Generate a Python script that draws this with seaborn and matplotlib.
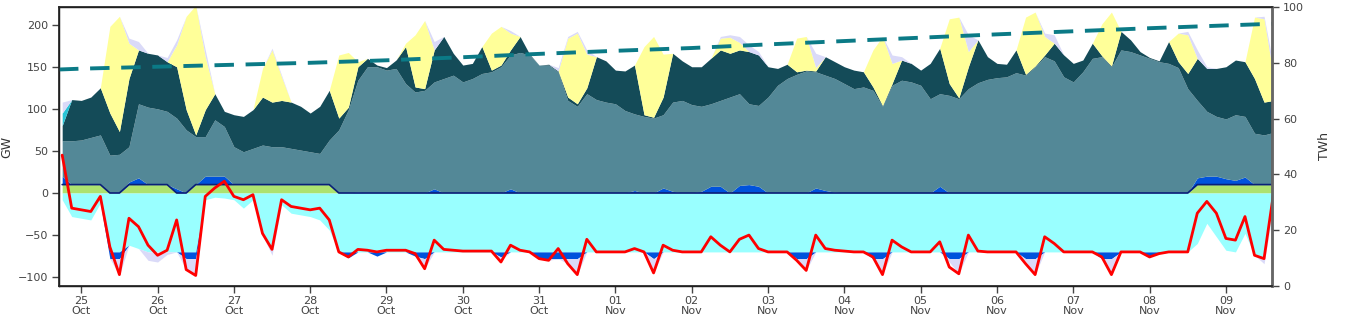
import matplotlib
matplotlib.use("Agg")
import matplotlib.pyplot as plt
import matplotlib.dates as mdates
import pandas as pd
import seaborn as sns

# 3-hourly samples, 24 Oct 18:00 -> 09 Nov 15:00 (one line = one day, 8 values)
start = "2019-10-24 18:00"

green = [10, 10,
         10, 10, 10, 0, 0, 10, 10, 10,
         10, 10, 0, 0, 10, 10, 10, 10,
         10, 10, 10, 10, 10, 10, 10, 10,
         10, 10, 10, 0, 0, 0, 0, 0,
         0, 0, 0, 0, 0, 0, 0, 0,
         0, 0, 0, 0, 0, 0, 0, 0,
         0, 0, 0, 0, 0, 0, 0, 0,
         0, 0, 0, 0, 0, 0, 0, 0,
         0, 0, 0, 0, 0, 0, 0, 0,
         0, 0, 0, 0, 0, 0, 0, 0,
         0, 0, 0, 0, 0, 0, 0, 0,
         0, 0, 0, 0, 0, 0, 0, 0,
         0, 0, 0, 0, 0, 0, 0, 0,
         0, 0, 0, 0, 0, 0, 0, 0,
         0, 0, 0, 0, 0, 10, 10, 10,
         10, 10, 10, 10, 10, 10]

blue_pos = [10, 0,
            0, 0, 0, 0, 0, 3, 8, 0,
            0, 0, 5, 0, 0, 10, 10, 10,
            0, 0, 0, 0, 0, 0, 0, 0,
            0, 0, 0, 0, 0, 1, 0, 0,
            0, 0, 0, 0, 0, 5, 0, 0,
            0, 0, 0, 0, 0, 5, 0, 0,
            0, 0, 0, 0, 0, 0, 0, 0,
            0, 0, 3, 0, 0, 6, 2, 0,
            0, 2, 8, 8, 0, 9, 10, 8,
            0, 0, 0, 0, 0, 6, 3, 1,
            0, 0, 0, 0, 0, 0, 0, 0,
            0, 0, 8, 0, 0, 0, 0, 0,
            0, 0, 0, 0, 0, 0, 0, 0,
            0, 0, 0, 0, 0, 0, 0, 0,
            0, 0, 0, 0, 0, 8, 10, 10,
            7, 5, 9, 0, 0, 0]

steel = [42, 52,
         53, 56, 59, 45, 46, 42, 88, 92,
         90, 87, 84, 75, 57, 47, 67, 59,
         45, 39, 43, 47, 45, 45, 43, 41,
         39, 37, 53, 75, 99, 133, 150, 150,
         146, 148, 130, 120, 122, 127, 136, 140,
         132, 136, 142, 144, 150, 159, 167, 164,
         152, 152, 144, 110, 103, 118, 111, 108,
         106, 98, 91, 91, 89, 87, 106, 110,
         105, 101, 98, 102, 114, 109, 96, 96,
         114, 128, 136, 141, 145, 138, 137, 135,
         130, 124, 126, 122, 103, 128, 134, 132,
         128, 112, 110, 116, 112, 124, 131, 135,
         137, 138, 143, 140, 150, 162, 157, 138,
         132, 144, 160, 162, 150, 170, 168, 164,
         160, 156, 154, 149, 124, 92, 77, 71,
         71, 78, 72, 61, 59, 62]

teal = [18, 49,
        47, 48, 56, 50, 27, 81, 64, 64,
        64, 59, 61, 24, 2, 32, 31, 18,
        38, 42, 46, 57, 53, 55, 55, 52,
        46, 56, 59, 14, 3, 16, 10, 2,
        3, 10, 44, 6, 2, 38, 50, 26,
        20, 18, 32, 2, 2, 6, 19, 1,
        0, 1, 1, 4, 3, 7, 51, 49,
        40, 47, 58, 2, 1, 21, 58, 47,
        45, 47, 54, 60, 52, 52, 62, 60,
        36, 20, 17, 3, 1, 1, 22, 20,
        20, 22, 18, 4, 1, 2, 24, 22,
        18, 42, 54, 14, 1, 26, 51, 27,
        17, 15, 27, 1, 1, 2, 21, 26,
        22, 14, 18, 1, 1, 22, 14, 4,
        1, 1, 26, 7, 18, 50, 51, 57,
        62, 65, 65, 65, 39, 38]

cyan_pos = [15, 0] + [0] * 126

yellow = [0, 0,
          0, 0, 0, 103, 137, 42, 0, 0,
          0, 0, 26, 111, 154, 63, 0, 0,
          0, 0, 0, 34, 62, 28, 0, 0,
          0, 0, 0, 75, 65, 6, 0, 0,
          0, 0, 4, 62, 81, 0, 0, 0,
          0, 0, 0, 44, 46, 20, 0, 0,
          0, 0, 0, 70, 84, 40, 0, 0,
          0, 0, 0, 81, 96, 51, 0, 0,
          0, 0, 0, 14, 19, 9, 0, 0,
          0, 0, 0, 40, 40, 4, 0, 0,
          0, 0, 0, 44, 82, 24, 0, 0,
          0, 0, 0, 77, 96, 18, 0, 0,
          0, 0, 0, 68, 64, 22, 0, 0,
          0, 0, 0, 38, 64, 0, 0, 0,
          0, 0, 0, 34, 46, 0, 0, 0,
          0, 0, 0, 73, 99, 28]

lavender = [13, 0,
            0, 0, 0, 0, 0, 6, 10, 0,
            0, 5, 6, 0, 0, 8, 0, 0,
            0, 0, 0, 0, 2, 2, 0, 0,
            0, 0, 0, 0, 0, 0, 0, 0,
            0, 0, 0, 0, 0, 10, 0, 0,
            0, 0, 0, 0, 0, 3, 0, 0,
            0, 0, 4, 2, 2, 5, 0, 0,
            0, 0, 0, 0, 0, 0, 0, 0,
            0, 0, 0, 2, 3, 7, 8, 4,
            0, 0, 0, 0, 0, 17, 0, 0,
            0, 0, 0, 0, 0, 10, 4, 0,
            0, 0, 0, 0, 0, 20, 0, 0,
            0, 0, 0, 0, 0, 4, 10, 0,
            0, 0, 0, 0, 0, 0, 0, 0,
            0, 0, 0, 0, 4, 10, 2, 0,
            0, 0, 0, 0, 3, 12]

cyan_neg = [8, 28,
            30, 32, 12, 70, 70, 62, 66, 70,
            70, 70, 70, 70, 70, 8, 5, 6,
            8, 18, 8, 50, 66, 14, 24, 26,
            28, 32, 44, 70, 70, 70, 70, 70,
            70, 70, 70, 70, 70, 70, 70, 70,
            70, 70, 70, 70, 70, 70, 70, 70,
            70, 70, 70, 70, 70, 70, 70, 70,
            70, 70, 70, 70, 70, 70, 70, 70,
            70, 70, 70, 70, 70, 70, 70, 70,
            70, 70, 70, 70, 70, 70, 70, 70,
            70, 70, 70, 70, 70, 70, 70, 70,
            70, 70, 70, 70, 70, 70, 70, 70,
            70, 70, 70, 70, 70, 70, 70, 70,
            70, 70, 70, 70, 70, 70, 70, 70,
            70, 70, 70, 70, 70, 60, 36, 52,
            68, 70, 48, 74, 78, 16]

blue_neg = [0, 0,
            0, 0, 0, 8, 8, 0, 0, 0,
            0, 0, 0, 8, 8, 0, 0, 0,
            0, 0, 0, 0, 0, 0, 0, 0,
            0, 0, 0, 0, 7, 0, 0, 5,
            0, 0, 0, 5, 8, 0, 0, 0,
            0, 0, 0, 0, 6, 0, 0, 0,
            8, 8, 8, 8, 8, 0, 0, 0,
            0, 0, 0, 0, 8, 0, 0, 0,
            0, 0, 0, 0, 0, 0, 0, 0,
            0, 0, 0, 8, 8, 0, 0, 0,
            0, 0, 0, 8, 8, 0, 0, 0,
            0, 0, 0, 8, 8, 0, 0, 0,
            0, 0, 0, 8, 8, 0, 0, 0,
            0, 0, 0, 8, 8, 0, 0, 0,
            5, 2, 0, 0, 0, 0, 0, 0,
            0, 0, 0, 0, 0, 0]

lavender_neg = [0, 0,
                0, 0, 0, 0, 20, 0, 0, 10,
                12, 3, 0, 13, 20, 0, 0, 0,
                0, 0, 0, 0, 8, 0, 0, 0,
                0, 0, 0, 0, 0, 0, 0, 0,
                0, 0, 0, 0, 12, 0, 0, 0,
                0, 0, 0, 0, 4, 0, 0, 0,
                0, 2, 0, 6, 19, 0, 0, 0,
                0, 0, 0, 0, 17, 0, 0, 0,
                0, 0, 0, 0, 0, 0, 0, 0,
                0, 0, 0, 2, 14, 0, 0, 0,
                0, 0, 0, 0, 19, 0, 0, 0,
                0, 0, 0, 4, 18, 0, 0, 0,
                0, 0, 0, 3, 19, 0, 0, 0,
                0, 0, 0, 0, 19, 0, 0, 0,
                0, 0, 0, 0, 0, 0, 0, 0,
                0, 0, 0, 0, 6, 0]

net = [45, -18,
       -20, -22, -4, -64, -97, -30, -40, -62,
       -74, -68, -32, -91, -98, -4, 6, 14,
       -4, -8, -2, -48, -67, -8, -16, -18,
       -20, -18, -32, -70, -76, -67, -68, -70,
       -68, -68, -68, -72, -90, -56, -67, -68,
       -69, -69, -69, -69, -82, -62, -68, -70,
       -78, -80, -66, -84, -97, -55, -70, -70,
       -70, -70, -66, -70, -95, -62, -68, -70,
       -70, -70, -52, -62, -70, -55, -50, -66,
       -70, -70, -70, -80, -92, -50, -66, -68,
       -69, -70, -70, -76, -97, -56, -64, -70,
       -70, -70, -58, -88, -96, -50, -69, -70,
       -70, -70, -70, -84, -97, -52, -60, -70,
       -70, -70, -70, -76, -97, -70, -70, -70,
       -76, -72, -70, -70, -70, -24, -10, -24,
       -54, -56, -28, -74, -78, 0]

# cumulative energy (right axis, TWh)
energy_times = ["2019-10-24 17:00", "2019-10-25 00:00", "2019-10-26 00:00",
                "2019-10-27 00:00", "2019-10-28 00:00", "2019-10-29 00:00",
                "2019-10-30 00:00", "2019-10-31 00:00", "2019-11-01 00:00",
                "2019-11-02 00:00", "2019-11-03 00:00", "2019-11-04 00:00",
                "2019-11-05 00:00", "2019-11-06 00:00", "2019-11-07 00:00",
                "2019-11-08 00:00", "2019-11-09 00:00", "2019-11-09 15:00"]
energy = [77.6, 77.9, 78.6, 79.3, 80.0, 80.9, 82.0, 83.2, 84.3, 85.3,
          86.6, 87.8, 89.0, 90.2, 91.3, 92.4, 93.4, 94.0]

times = pd.date_range(start, periods=len(net), freq="3h")
energy_times = pd.to_datetime(energy_times, format="%Y-%m-%d %H:%M")

sns.set_theme(style="white")
plt.rcParams['font.family'] = ['DejaVu Sans']

fig, ax = plt.subplots(figsize=(13.5, 3.2), dpi=100)
fig.subplots_adjust(left=59 / 1350, right=1272 / 1350, bottom=34 / 320, top=313 / 320)

ax.stackplot(times, green, blue_pos, steel, teal, cyan_pos, yellow, lavender,
             colors=['#ade26f', '#0052dc', '#538897', '#144b58', '#29c4d6',
                     '#ffff99', '#dadaf8'], linewidth=0)
ax.stackplot(times, [-v for v in cyan_neg], [-v for v in blue_neg],
             [-v for v in lavender_neg],
             colors=['#99ffff', '#0052dc', '#dadaf8'], linewidth=0)

sns.lineplot(x=times, y=green, ax=ax, color='#0a1f78', linewidth=1.2)
sns.lineplot(x=times, y=net, ax=ax, color='#ff0000', linewidth=2)

ax.set_ylim(-110.5, 221)
ax.set_yticks([-100, -50, 0, 50, 100, 150, 200])
ax.set_xlim(pd.Timestamp("2019-10-24 17:00"), pd.Timestamp("2019-11-09 14:30"))
ax.xaxis.set_major_locator(mdates.DayLocator())
ax.xaxis.set_major_formatter(mdates.DateFormatter("%d\n%b"))
ax.set_ylabel("GW", fontsize=9, color='#333333', labelpad=3)
ax.set_xlabel("")
ax.tick_params(axis='y', labelsize=8, colors='#444444', length=5,
               width=1, direction='out', left=True, pad=3)
ax.tick_params(axis='x', labelsize=8, colors='#444444', length=5,
               width=1, direction='out', bottom=True, pad=2)
for lbl in ax.get_xticklabels():
    lbl.set_linespacing(1.0)
for s in ax.spines.values():
    s.set_color('black')
    s.set_linewidth(1)

ax2 = ax.twinx()
sns.lineplot(x=energy_times, y=energy, ax=ax2, color='#0b7a86', linewidth=2.8,
             linestyle=(0, (5, 3)))
ax2.set_ylim(0, 100)
ax2.set_yticks([0, 20, 40, 60, 80, 100])
ax2.set_ylabel("TWh", fontsize=9, color='#333333', labelpad=10)
ax2.tick_params(axis='y', labelsize=8, colors='#444444', length=5, width=1,
                direction='out', right=True, pad=3)
ax2.spines['right'].set_color('#666666')
ax2.spines['right'].set_linewidth(2)
ax2.set_xlim(ax.get_xlim())

fig.savefig("out.png", dpi=100)
